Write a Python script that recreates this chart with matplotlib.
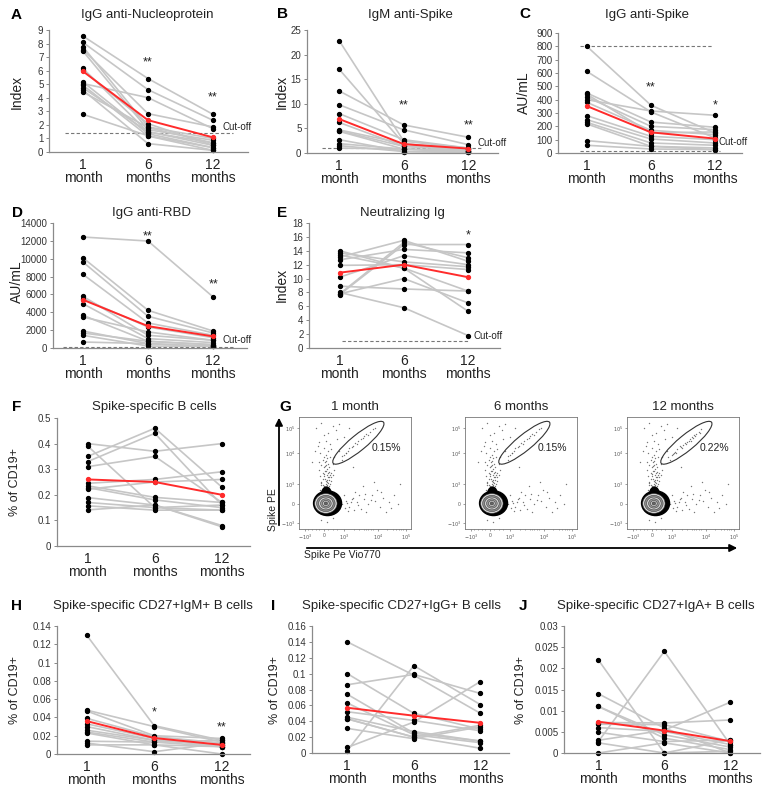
import numpy as np
import matplotlib
matplotlib.use('Agg')
import matplotlib.pyplot as plt
from matplotlib.patches import Ellipse, FancyArrowPatch

plt.rcParams['font.family'] = ['Liberation Sans', 'DejaVu Sans']
plt.rcParams['axes.unicode_minus'] = False

W, H = 779, 800
GREY = '#c6c6c6'
RED = '#ff2b2b'
TXT = '#222222'

TIMES = ['1\nmonth', '6\nmonths', '12\nmonths']

# A  IgG anti-Nucleoprotein (Index)
a_1m = [8.55, 8.08, 7.76, 7.56, 7.44, 6.16, 6.03, 5.17, 5.05, 4.93, 4.73, 4.56, 4.43, 2.78]
a_6m = [5.42, 4.60, 1.85, 2.83, 1.65, 1.48, 2.09, 1.35, 4.01, 1.18, 1.50, 0.62, 1.80, 1.20]
a_12m = [2.78, 2.34, 1.00, 1.85, 0.86, 0.67, 0.49, 0.32, 1.72, 0.12, 0.49, 0.12, 0.67, 0.32]
a_mean = [5.95, 2.35, 1.08]

# B  IgM anti-Spike (Index)
b_1m = [22.8, 17.0, 12.6, 9.8, 8.0, 6.2, 4.7, 4.4, 2.7, 1.9, 1.5, 1.0, 4.5]
b_6m = [2.4, 1.9, 5.7, 4.7, 2.7, 1.35, 1.9, 0.8, 0.3, 0.8, 0.3, 0.8, 1.35]
b_12m = [1.0, 0.5, 3.2, 1.7, 1.0, 0.5, 0.8, 0.15, 0.15, 0.5, 0.15, 0.5, 0.8]
b_mean = [6.9, 1.8, 0.9]

# C  IgG anti-Spike (AU/mL)
c_1m = [800, 612, 450, 420, 400, 380, 280, 250, 230, 218, 93, 58, 440]
c_6m = [358, 308, 232, 200, 315, 170, 125, 105, 75, 50, 50, 30, 150]
c_12m = [150, 113, 193, 175, 283, 138, 100, 75, 58, 38, 25, 25, 158]
c_mean = [352, 155, 108]

# D  IgG anti-RBD (AU/mL)
d_1m = [12430, 10100, 9630, 8250, 5790, 5520, 4960, 3660, 3470, 1900, 1680, 1420, 670]
d_6m = [11980, 4220, 3550, 2800, 1420, 2350, 1050, 750, 1800, 490, 750, 220, 490]
d_12m = [5710, 1900, 1680, 1420, 860, 1160, 600, 370, 860, 190, 370, 190, 190]
d_mean = [5400, 2450, 1300]

# E  Neutralizing Ig (Index)
e_1m = [14.0, 13.7, 13.4, 13.1, 12.7, 11.9, 10.2, 8.9, 7.8, 7.7, 7.8, 8.0]
e_6m = [11.5, 12.4, 11.5, 15.5, 14.2, 12.0, 13.3, 8.5, 15.2, 14.9, 10.0, 5.8]
e_12m = [5.3, 11.7, 8.2, 12.5, 13.7, 11.3, 12.0, 8.2, 13.0, 14.9, 6.5, 1.8]
e_mean = [10.85, 12.0, 10.2]

# F  Spike-specific B cells (% of CD19+)
f_1m = [0.40, 0.39, 0.35, 0.33, 0.31, 0.245, 0.235, 0.228, 0.222, 0.189, 0.17, 0.157, 0.141]
f_6m = [0.37, 0.15, 0.46, 0.44, 0.35, 0.26, 0.19, 0.18, 0.25, 0.16, 0.15, 0.14, 0.16]
f_12m = [0.40, 0.14, 0.23, 0.16, 0.17, 0.29, 0.17, 0.15, 0.26, 0.08, 0.16, 0.14, 0.075]
f_mean = [0.26, 0.25, 0.20]

# H  Spike-specific CD27+IgM+ B cells
h_1m = [0.130, 0.048, 0.047, 0.039, 0.033, 0.030, 0.024, 0.023, 0.014, 0.012, 0.010, 0.026]
h_6m = [0.031, 0.030, 0.020, 0.019, 0.017, 0.015, 0.013, 0.010, 0.013, 0.0025, 0.010, 0.015]
h_12m = [0.015, 0.013, 0.017, 0.012, 0.008, 0.010, 0.008, 0.0, 0.015, 0.012, 0.008, 0.010]
h_mean = [0.036, 0.0175, 0.010]

# I  Spike-specific CD27+IgG+ B cells
i_1m = [0.140, 0.086, 0.100, 0.074, 0.063, 0.052, 0.045, 0.043, 0.031, 0.007, 0.003, 0.043]
i_6m = [0.098, 0.099, 0.050, 0.025, 0.023, 0.041, 0.027, 0.020, 0.018, 0.039, 0.110, 0.020]
i_12m = [0.050, 0.075, 0.030, 0.015, 0.013, 0.028, 0.015, 0.035, 0.033, 0.090, 0.061, 0.006]
i_mean = [0.057, 0.047, 0.038]

# J  Spike-specific CD27+IgA+ B cells
j_1m = [0.022, 0.014, 0.011, 0.011, 0.0072, 0.0068, 0.006, 0.0049, 0.0027, 0.0024, 0.003, 0.0]
j_6m = [0.0, 0.0059, 0.0043, 0.0035, 0.0071, 0.0067, 0.0051, 0.0027, 0.024, 0.0, 0.0054, 0.0024]
j_12m = [0.0004, 0.0, 0.0014, 0.0008, 0.0078, 0.0027, 0.0020, 0.0031, 0.002, 0.0031, 0.012, 0.0]
j_mean = [0.0074, 0.0053, 0.0028]

A_YT = [0, 1, 2, 3, 4, 5, 6, 7, 8, 9]
B_YT = [0, 5, 10, 15, 20, 25]
C_YT = [0, 100, 200, 300, 400, 500, 600, 700, 800, 900]
D_YT = [0, 2000, 4000, 6000, 8000, 10000, 12000, 14000]
E_YT = [0, 2, 4, 6, 8, 10, 12, 14, 16, 18]
F_YT = [0, 0.1, 0.2, 0.3, 0.4, 0.5]
F_YL = ['0', '0.1', '0.2', '0.3', '0.4', '0.5']
H_YT = [0, 0.02, 0.04, 0.06, 0.08, 0.10, 0.12, 0.14]
H_YL = ['0', '0.02', '0.04', '0.06', '0.08', '0.1', '0.12', '0.14']
I_YT = [0, 0.02, 0.04, 0.06, 0.08, 0.10, 0.12, 0.14, 0.16]
I_YL = ['0', '0.02', '0.04', '0.06', '0.08', '0.1', '0.12', '0.14', '0.16']
J_YT = [0, 0.005, 0.01, 0.015, 0.02, 0.025, 0.03]
J_YL = ['0', '0.005', '0.01', '0.015', '0.02', '0.025', '0.03']

# flow cytometry events (panel coords 0-100)
stream_x = [22, 24, 20, 26, 23, 25, 21, 27, 24, 19, 28, 22, 26, 23, 20, 25, 29, 18, 27, 21, 24, 26, 22, 19, 28,
            30, 25, 23, 27, 21, 29, 24, 26, 20, 31, 22, 25, 18, 23, 26, 21, 28, 24, 22, 27, 25, 20, 23, 29, 24,
            26, 21, 19, 30, 22, 25, 27, 23]
stream_y = [38, 40, 42, 36, 45, 48, 50, 44, 52, 47, 40, 55, 58, 60, 57, 63, 50, 53, 55, 62, 66, 70, 72, 68, 64,
            58, 42, 34, 38, 36, 46, 57, 50, 39, 53, 47, 44, 60, 37, 41, 45, 48, 43, 49, 51, 54, 41, 56, 43, 61,
            46, 39, 35, 48, 64, 39, 46, 52]
top_x = [18, 22, 28, 33, 15, 40, 36, 30, 45, 20, 38, 42, 34, 17, 12, 48, 26, 31, 24, 14, 36, 29]
top_y = [78, 84, 76, 88, 90, 82, 70, 92, 90, 95, 62, 68, 80, 74, 60, 55, 86, 64, 79, 70, 94, 71]
tail_x = [38, 42, 45, 48, 52, 55, 58, 62, 65, 68, 72, 75, 80, 85, 40, 44, 50, 60, 70, 78, 36, 54, 64, 46, 90,
          88, 20, 30, 25, 57, 67, 41, 47, 53, 37, 43, 49, 59, 73, 82]
tail_y = [22, 25, 20, 28, 24, 18, 27, 22, 30, 25, 20, 28, 24, 30, 30, 16, 33, 15, 35, 15, 18, 30, 26, 24, 40,
          22, 8, 10, 6, 38, 42, 19, 27, 21, 25, 23, 17, 31, 33, 19]
gate1_x = [38, 42, 45, 48, 50, 53, 55, 58, 60, 63, 66, 44, 52, 57, 47, 40, 62, 68]
gate1_y = [65, 68, 72, 74, 77, 79, 80, 83, 85, 87, 89, 70, 76, 81, 73, 66, 84, 90]
gate3_x = [37, 40, 43, 45, 48, 50, 52, 54, 56, 58, 60, 62, 64, 66, 44, 49, 53, 57, 61, 65, 41, 47, 55, 59]
gate3_y = [64, 66, 69, 71, 73, 75, 77, 78, 80, 82, 84, 85, 87, 89, 68, 72, 76, 79, 83, 86, 67, 74, 79, 81]

flow_titles = ['1 month', '6 months', '12 months']
flow_pct = ['0.15%', '0.15%', '0.22%']

fig = plt.figure(figsize=(W / 100, H / 100), dpi=100)


def add_ax(l, t, r, b):
    return fig.add_axes([l / W, 1 - b / H, (r - l) / W, (b - t) / H])


def ftext(x, y, s, **kw):
    fig.text(x / W, 1 - y / H, s, **kw)


def line_panel(box, xlim, v1, v6, v12, mean, yt, yl=None):
    ax = add_ax(*box)
    for p in zip(v1, v6, v12):
        ax.plot([0, 1, 2], p, color=GREY, lw=1.2, zorder=1)
    for k, v in enumerate([v1, v6, v12]):
        ax.plot([k] * len(v), v, 'o', color='black', ms=2.8, zorder=2, clip_on=False)
    ax.plot([0, 1, 2], mean, color=RED, lw=1.4, marker='o', ms=2.8, zorder=4, clip_on=False)
    ax.set_xlim(*xlim)
    ax.set_ylim(yt[0], yt[-1])
    ax.set_yticks(yt)
    ax.set_yticklabels(yl if yl else [str(v) for v in yt])
    ax.set_xticks([0, 1, 2])
    ax.set_xticklabels(TIMES, fontsize=10, linespacing=0.95)
    ax.tick_params(axis='x', length=0, pad=4, colors=TXT)
    ax.tick_params(axis='y', length=2.5, width=0.7, pad=1.5, labelsize=7, colors='#888888', labelcolor='#333333')
    for s in ['top', 'right']:
        ax.spines[s].set_visible(False)
    for s in ['left', 'bottom']:
        ax.spines[s].set_color('#8a8a8a')
        ax.spines[s].set_linewidth(0.9)
    return ax


def cutoff(ax, y, x0, x1, tx, ty):
    ax.plot([x0, x1], [y, y], color='#777777', lw=0.8, ls=(0, (3, 2)), zorder=0)
    if tx is not None:
        ax.text(tx, ty, 'Cut-off', fontsize=7, color=TXT, va='center', ha='left')


def stars(ax, items):
    for x, y, s in items:
        ax.text(x, y, s, fontsize=9, color=TXT, ha='center', va='center')


# ---- row 1
ax = line_panel((49, 30, 248, 152), (-0.523, 2.54), a_1m, a_6m, a_12m, a_mean, A_YT)
cutoff(ax, 1.4, -0.28, 2.31, 2.15, 1.85)
stars(ax, [(1, 6.6, '**'), (2, 4.05, '**')])
ax = line_panel((307, 30, 498, 153), (-0.5, 2.46), b_1m, b_6m, b_12m, b_mean, B_YT)
cutoff(ax, 1.1, -0.26, 2.19, 2.14, 2.0)
stars(ax, [(1, 9.6, '**'), (2, 5.7, '**')])
ax = line_panel((558, 33, 742, 153), (-0.45, 2.42), c_1m, c_6m, c_12m, c_mean, C_YT)
cutoff(ax, 800, -0.11, 1.97, None, None)
cutoff(ax, 15, -0.11, 2.08, 2.05, 80)
stars(ax, [(1, 495, '**'), (2, 360, '*')])

# ---- row 2
ax = line_panel((53, 223, 247, 348), (-0.46, 2.52), d_1m, d_6m, d_12m, d_mean, D_YT)
cutoff(ax, 100, -0.3, 2.3, 2.15, 930)
stars(ax, [(1, 12500, '**'), (2, 7100, '**')])
ax = line_panel((309, 223, 500, 348), (-0.48, 2.5), e_1m, e_6m, e_12m, e_mean, E_YT)
cutoff(ax, 0.96, 0.03, 2.0, 2.08, 1.7)
stars(ax, [(2, 16.2, '*')])

# ---- row 3
ax = line_panel((57, 418, 250, 546), (-0.46, 2.42), f_1m, f_6m, f_12m, f_mean, F_YT, F_YL)

# ---- row 4
ax = line_panel((57, 626, 250, 754), (-0.44, 2.42), h_1m, h_6m, h_12m, h_mean, H_YT, H_YL)
stars(ax, [(1, 0.045, '*'), (2, 0.029, '**')])
ax = line_panel((312, 626, 509, 753), (-0.53, 2.43), i_1m, i_6m, i_12m, i_mean, I_YT, I_YL)
ax = line_panel((564, 626, 760, 753), (-0.52, 2.45), j_1m, j_6m, j_12m, j_mean, J_YT, J_YL)

# ---- titles, letters, y labels
titles = [(147, 15, 'IgG anti-Nucleoprotein'), (410, 15, 'IgM anti-Spike'), (647, 15, 'IgG anti-Spike'),
          (152, 213, 'IgG anti-RBD'), (402, 213, 'Neutralizing Ig'), (154, 407, 'Spike-specific B cells'),
          (153, 606, 'Spike-specific CD27+IgM+ B cells'), (402, 606, 'Spike-specific CD27+IgG+ B cells'),
          (656, 606, 'Spike-specific CD27+IgA+ B cells')]
for x, y, s in titles:
    ftext(x, y, s, fontsize=9.5, ha='center', va='center', color=TXT)

letters = [(11, 15, 'A'), (277, 14, 'B'), (519, 14, 'C'), (12, 213, 'D'), (277, 213, 'E'),
           (12, 407, 'F'), (279, 407, 'G'), (11, 606, 'H'), (271, 606, 'I'), (519, 606, 'J')]
for x, y, s in letters:
    ftext(x, y, s, fontsize=11, fontweight='bold', ha='left', va='center')

ylabs = [(17, 92, 'Index', 10), (282, 92, 'Index', 10), (524, 93, 'AU/mL', 10), (17, 282, 'AU/mL', 10),
         (282, 285, 'Index', 10), (15, 482, '% of CD19+', 9), (15, 690, '% of CD19+', 9),
         (275, 690, '% of CD19+', 9), (521, 690, '% of CD19+', 9)]
for x, y, s, fs in ylabs:
    ftext(x, y, s, fontsize=fs, rotation=90, ha='center', va='center', color=TXT)

# ---- G flow cytometry
flow_xt = [5.5, 22, 40, 70.6, 95.5]
flow_yt = [5, 22, 40, 68, 90]
flow_xl = ['$-10^3$', '0', '$10^3$', '$10^4$', '$10^5$']
flow_yl = ['$-10^3$', '0', '$10^3$', '$10^4$', '$10^5$']
flow_lefts = [299, 465, 627]
for n, left in enumerate(flow_lefts):
    fx = add_ax(left, 417, left + 112, 529)
    gx = gate3_x if n == 2 else gate1_x
    gy = gate3_y if n == 2 else gate1_y
    for xs, ys in [(stream_x, stream_y), (top_x, top_y), (tail_x, tail_y), (gx, gy)]:
        fx.plot(xs, ys, 'o', color='#555555', ms=1.0, mew=0, alpha=0.8)
    # density contours of the main population
    fx.add_patch(Ellipse((24.5, 30), 9, 15, color='black', zorder=3))
    fx.add_patch(Ellipse((25.5, 23), 25, 22, color='black', zorder=3))
    for r, c in [(20, '#d6d6d6'), (16.5, '#8c8c8c'), (13, '#cfcfcf'), (9.5, '#9a9a9a'), (6, '#c4c4c4'),
                 (3, '#666666')]:
        fx.add_patch(Ellipse((24, 22.8), r, r * 0.88, facecolor=c, edgecolor='#333333', lw=0.35, zorder=4))
    fx.add_patch(Ellipse((53, 77), 58, 14, angle=39.3, fill=False, edgecolor='#333333', lw=0.8, zorder=5))
    fx.text(64.5, 72, flow_pct[n], fontsize=7.5, ha='left', va='center', color=TXT, zorder=6)
    fx.set_xlim(0, 100)
    fx.set_ylim(0, 100)
    fx.set_xticks(flow_xt)
    fx.set_xticklabels(flow_xl, fontsize=3.5)
    fx.set_yticks(flow_yt)
    fx.set_yticklabels(flow_yl, fontsize=3.5)
    fx.set_xticks([8, 12, 15, 18, 26, 30, 34, 49, 54, 58, 60, 62, 64, 66, 79, 84, 87, 89, 91, 93], minor=True)
    fx.tick_params(which='both', length=1.5, width=0.4, pad=1.5, colors='#555555')
    fx.tick_params(which='minor', length=1.0)
    for s in fx.spines.values():
        s.set_color('#777777')
        s.set_linewidth(0.6)
    ftext(left + 56, 407, flow_titles[n], fontsize=9.5, ha='center', va='center', color=TXT)

fig.add_artist(FancyArrowPatch((279 / W, 1 - 528 / H), (279 / W, 1 - 415 / H), transform=fig.transFigure,
                               arrowstyle='-|>', mutation_scale=11, lw=1.3, color='black'))
fig.add_artist(FancyArrowPatch((304 / W, 1 - 548 / H), (740 / W, 1 - 548 / H), transform=fig.transFigure,
                               arrowstyle='-|>', mutation_scale=11, lw=1.3, color='black'))
ftext(273, 510, 'Spike PE', fontsize=7.5, rotation=90, ha='center', va='center', color=TXT)
ftext(304, 555, 'Spike Pe Vio770', fontsize=7.5, ha='left', va='center', color=TXT)

fig.savefig('out.png', dpi=100)
